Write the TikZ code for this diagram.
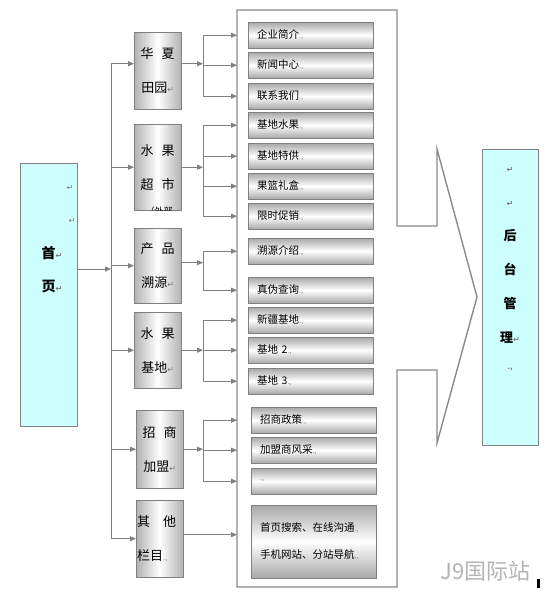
\documentclass[tikz,border=0pt]{standalone}
\usepackage{fontspec}
\setmainfont{Noto Sans CJK SC}
\newfontfamily\retfont{DejaVu Sans}
\usetikzlibrary{arrows.meta, positioning}
\usepackage{xcolor}
\definecolor{lnGray}{RGB}{128, 128, 128}
\definecolor{edgeGray}{RGB}{138, 138, 138}
\definecolor{shadeGray}{RGB}{168, 168, 168}
\definecolor{sideGray}{RGB}{178, 178, 178}
\definecolor{homeCyan}{RGB}{206, 255, 255}
\definecolor{markGray}{RGB}{120, 120, 120}
\definecolor{wmGray}{RGB}{180, 180, 180}

\newcommand{\ret}{{\retfont\fontsize{8}{8}\selectfont\textcolor{markGray}{↵}}}
\newcommand{\cellmk}{{\fontsize{7}{7}\selectfont\textcolor{markGray}{.,}}}

\begin{document}
\begin{tikzpicture}[
    x=1pt, y=-1pt,
    conn/.style={
        draw=lnGray,
        line width=0.8pt,
        -{Triangle[length=6pt,width=5pt]}
    },
    trunkline/.style={
        draw=lnGray,
        line width=0.8pt
    },
    homebox/.style={
        rectangle,
        draw=lnGray,
        fill=homeCyan,
        minimum width=57pt,
        minimum height=263pt,
        inner sep=0pt,
        anchor=north west
    },
    catbox/.style={
        rectangle,
        draw=lnGray,
        left color=sideGray,
        right color=sideGray,
        middle color=white,
        minimum width=47pt,
        minimum height=77pt,
        inner sep=0pt,
        align=center,
        anchor=north west,
        font=\fontsize{13}{34}\selectfont
    },
    itembox/.style={
        rectangle,
        draw=lnGray,
        top color=shadeGray,
        bottom color=shadeGray,
        middle color=white,
        text width=107pt,
        inner xsep=9pt,
        inner ysep=0pt,
        minimum height=26pt,
        align=left,
        anchor=north west,
        font=\fontsize{10.5}{27}\selectfont
    }
]

\useasboundingbox (0,0) rectangle (548,592);
\fill[white] (0,0) rectangle (548,592);

% Outline arrow round the sub pages
\draw[edgeGray, line width=1.4pt]
    (237,10) -- (397,10) -- (397,226) -- (437,226) -- (437,149) -- (477,297)
    -- (437,443) -- (437,370) -- (397,370) -- (397,587) -- (237,587) -- cycle;
\coordinate (cont) at (237,0);
\coordinate (trunk) at (111,269);
\coordinate (fork) at (203,0);

% Home
\node[homebox] (home) at (20,163) {};
\node[font=\bfseries\fontsize{14}{33}\selectfont, align=center] (homeTxt) at (52,270) {首\ret\\页\ret};
\node (homeRetA) at (70,188) {\ret};
\node (homeRetB) at (72,221) {\ret};

% Back end
\node[homebox, minimum width=56pt, minimum height=296pt] (admin) at (482,149) {};
\node[font=\bfseries\fontsize{13}{34}\selectfont, align=center] (adminTxt) at (510,269) {\ret\\\ret\\后\\台\\管\\理\ret\\[-7pt]\cellmk};

% Columns
\node[catbox] (hxty) at (134,32) {华\hspace{8pt}夏\\田园\ret};
\node[catbox, minimum height=86pt] (sgcs) at (134,124) {水\hspace{8pt}果\\超\hspace{8pt}市};
\begin{scope}
    \clip (sgcs.south west) rectangle (sgcs.north east);
    \node[font=\fontsize{9}{9}\selectfont] (sgcsMore) at (159,211) {（外部};
\end{scope}
\node[catbox, minimum height=75pt] (cpsy) at (134,228) {产\hspace{8pt}品\\溯源\ret};
\node[catbox, minimum height=76pt] (sgjd) at (134,312) {水\hspace{8pt}果\\基地\ret};
\node[catbox, minimum height=78pt] (zsjm) at (136,410) {招\hspace{8pt}商\\加盟\ret};
\node[catbox, minimum height=77pt, align=left, text width=45pt, inner xsep=1pt] (qtlm) at (136,500) {其\hspace{13pt}他\\栏目\cellmk};

% Sub pages
\node[itembox] (qyjj) at (248,22) {企业简介\cellmk};
\node[itembox] (xwzx) at (248,52) {新闻中心\cellmk};
\node[itembox] (lxwm) at (248,83) {联系我们\cellmk};
\node[itembox] (jdsg) at (248,112) {基地水果\cellmk};
\node[itembox] (jdtg) at (248,143) {基地特供\cellmk};
\node[itembox] (glhh) at (248,173) {果篮礼盒\cellmk};
\node[itembox] (xscx) at (248,203) {限时促销\cellmk};
\node[itembox] (sysj) at (248,238) {溯源介绍\cellmk};
\node[itembox] (zwcx) at (248,277) {真伪查询\cellmk};
\node[itembox] (xjjd) at (248,307) {新疆基地\cellmk};
\node[itembox] (jd2) at (248,337) {基地 2\cellmk};
\node[itembox] (jd3) at (248,368) {基地 3\cellmk};
\node[itembox] (zszc) at (251,407) {招商政策\cellmk};
\node[itembox] (jmsfc) at (251,437) {加盟商风采\cellmk};
\node[itembox] (kong) at (251,468) {\cellmk};
\node[itembox, minimum height=73pt] (dlxx) at (251,505) {首页搜索、在线沟通\cellmk\\手机网站、分站导航\cellmk};

% Home to columns
\draw[conn] (home.east |- trunk) -- (trunk);
\draw[trunkline] ([yshift=7pt]trunk |- hxty.west) -- (trunk |- qtlm.west);
\draw[conn] ([yshift=7pt]trunk |- hxty.west) -- ([yshift=7pt]hxty.west);
\foreach \c in {sgcs,cpsy,sgjd,zsjm,qtlm}
    \draw[conn] (trunk |- \c.west) -- (\c.west);

% Columns to sub pages
\draw[conn] ([yshift=7pt]hxty.east) -- ([yshift=7pt]hxty.east -| fork);
\draw[trunkline] (fork |- qyjj.west) -- (fork |- lxwm.west);
\foreach \t in {qyjj,xwzx,lxwm}
    \draw[conn] (fork |- \t.west) -- (cont |- \t.west);

\draw[conn] (sgcs.east) -- (sgcs.east -| fork);
\draw[trunkline] (fork |- jdsg.west) -- (fork |- xscx.west);
\foreach \t in {jdsg,jdtg,glhh,xscx}
    \draw[conn] (fork |- \t.west) -- (cont |- \t.west);

\draw[conn] ([yshift=3pt]cpsy.east) -- ([yshift=3pt]cpsy.east -| fork);
\draw[trunkline] (fork |- sysj.west) -- (fork |- zwcx.west);
\foreach \t in {sysj,zwcx}
    \draw[conn] (fork |- \t.west) -- (cont |- \t.west);

\draw[conn] (sgjd.east) -- (sgjd.east -| fork);
\draw[trunkline] (fork |- xjjd.west) -- (fork |- jd3.west);
\foreach \t in {xjjd,jd2,jd3}
    \draw[conn] (fork |- \t.west) -- (cont |- \t.west);

\draw[conn] (zsjm.east) -- (zsjm.east -| fork);
\draw[trunkline] (fork |- zszc.west) -- (fork |- kong.west);
\foreach \t in {zszc,jmsfc,kong}
    \draw[conn] (fork |- \t.west) -- (cont |- \t.west);

\draw[conn] ([yshift=4pt]qtlm.east) -- ([yshift=4pt]qtlm.east -| cont);

% Watermark
\node[text=wmGray, font=\fontsize{22}{22}\selectfont, anchor=east] (mark) at (534,571) {J9国际站};
\fill[black] (537,579) rectangle (539.5,588);

\end{tikzpicture}
\end{document}
